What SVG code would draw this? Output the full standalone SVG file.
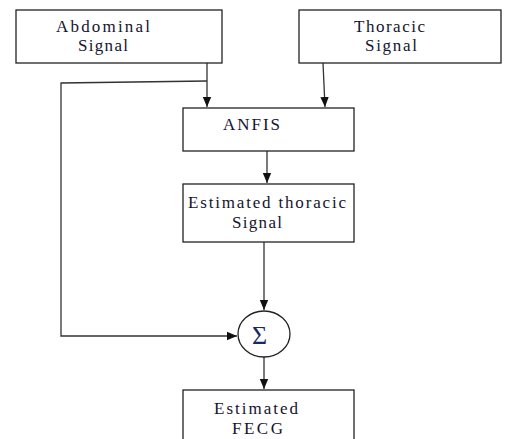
<svg xmlns="http://www.w3.org/2000/svg" width="505" height="439" viewBox="0 0 505 439">
<style>
.box{fill:#fff;stroke:#222;stroke-width:1.3}
.ln{fill:none;stroke:#333;stroke-width:1.3}
.t{font-family:"Liberation Serif","Times New Roman",serif;font-size:17px;fill:#14142e}
.s{font-family:"Liberation Serif","Times New Roman",serif;font-size:26px;fill:#1a2a60}
</style>
<defs>
<marker id="ah" viewBox="0 0 10 10" refX="10" refY="5" markerWidth="10" markerHeight="10" markerUnits="userSpaceOnUse" orient="auto">
<path d="M0,0.8 L10,5 L0,9.2 Z" fill="#111"/>
</marker>
</defs>
<rect width="505" height="439" fill="#fff"/>
<g id="connectors">
<path class="ln" d="M207,63 L207,107" marker-end="url(#ah)"/>
<path class="ln" d="M207,81 L61,83 L61,336 L237,336" marker-end="url(#ah)"/>
<path class="ln" d="M323,63 L325,107" marker-end="url(#ah)"/>
<path class="ln" d="M267,151 L267,183" marker-end="url(#ah)"/>
<path class="ln" d="M264,242 L264,310" marker-end="url(#ah)"/>
<path class="ln" d="M264,357 L264,389" marker-end="url(#ah)"/>
</g>
<g id="abdominal">
<rect class="box" x="16" y="10" width="206" height="53"/>
<text class="t" x="56" y="32" textLength="94" lengthAdjust="spacing">Abdominal</text>
<text class="t" x="78" y="51" textLength="50" lengthAdjust="spacing">Signal</text>
</g>
<g id="thoracic">
<rect class="box" x="299" y="10" width="202" height="53"/>
<text class="t" x="354" y="32" textLength="71" lengthAdjust="spacing">Thoracic</text>
<text class="t" x="365" y="51" textLength="52" lengthAdjust="spacing">Signal</text>
</g>
<g id="anfis">
<rect class="box" x="183" y="108" width="171" height="43"/>
<text class="t" x="223" y="130" textLength="57" lengthAdjust="spacing">ANFIS</text>
</g>
<g id="estimated-thoracic">
<rect class="box" x="183" y="184" width="171" height="58"/>
<text class="t" x="188" y="208" textLength="158" lengthAdjust="spacing">Estimated thoracic</text>
<text class="t" x="232" y="228" textLength="50" lengthAdjust="spacing">Signal</text>
</g>
<g id="sum">
<ellipse class="box" cx="264" cy="334" rx="26" ry="23"/>
<text class="s" x="252" y="344">Σ</text>
</g>
<g id="estimated-fecg">
<rect class="box" x="183" y="390" width="171" height="60"/>
<text class="t" x="214" y="414" textLength="84" lengthAdjust="spacing">Estimated</text>
<text class="t" x="232" y="434" textLength="51" lengthAdjust="spacing">FECG</text>
</g>
</svg>
